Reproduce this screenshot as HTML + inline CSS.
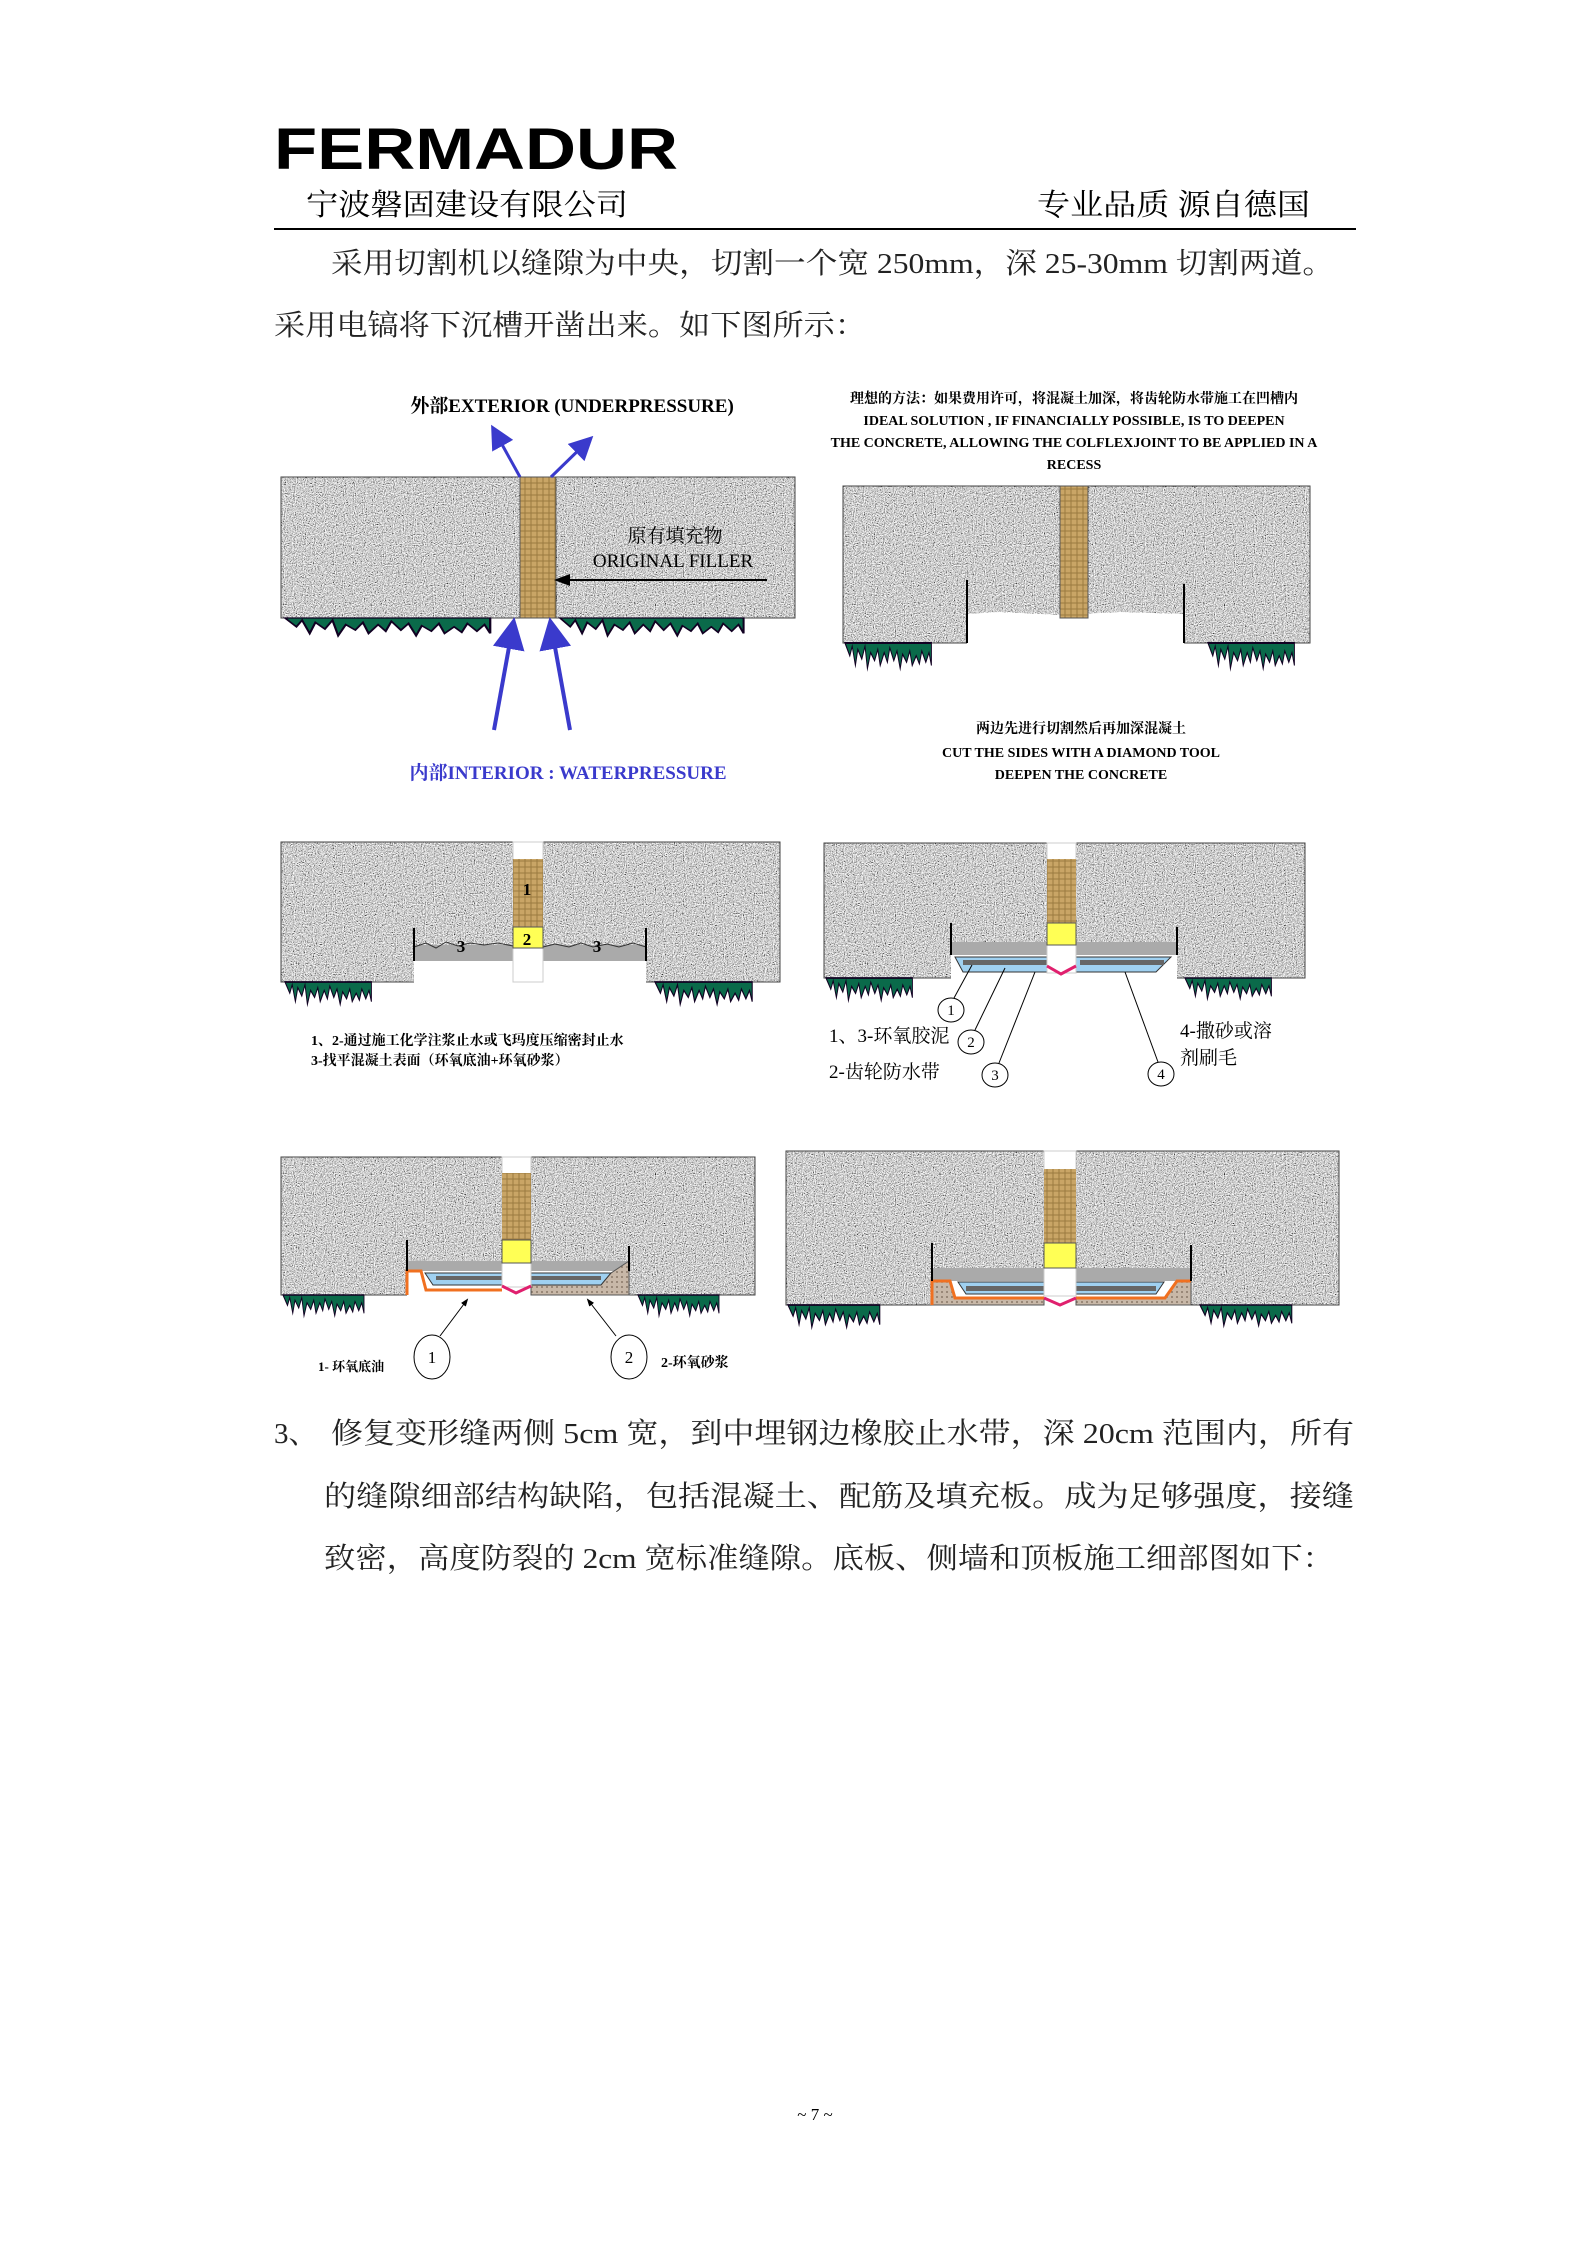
<!DOCTYPE html>
<html><head><meta charset="utf-8"><style>
html,body{margin:0;padding:0;background:#fff}
svg{display:block}
.s{font-family:"Liberation Serif","Noto Serif CJK SC",serif}
.h{font-family:"Liberation Sans","Noto Sans CJK SC",sans-serif}
</style></head><body>
<svg width="1587" height="2245" viewBox="0 0 1587 2245" xmlns="http://www.w3.org/2000/svg">
<defs>
<filter id="n" x="0" y="0" width="100%" height="100%">
<feTurbulence type="fractalNoise" baseFrequency="0.9" numOctaves="2" seed="3" result="t"/>
<feColorMatrix in="t" type="matrix" values="1.4 1.4 0 0 -0.78  1.4 1.4 0 0 -0.78  1.4 1.4 0 0 -0.78  0 0 0 0 1" result="g"/>
<feComposite in="g" in2="SourceGraphic" operator="in"/>
</filter>
<pattern id="fill" width="6" height="6" patternUnits="userSpaceOnUse"><rect width="6" height="6" fill="#c9a566"/><path d="M0 3h6M3 0v6" stroke="#9b7a40" stroke-width="1"/></pattern>
<pattern id="sand" width="5" height="5" patternUnits="userSpaceOnUse"><rect width="5" height="5" fill="#c8b8a8"/><circle cx="2" cy="2" r="0.9" fill="#776655"/></pattern>
<marker id="ab" markerWidth="8" markerHeight="8" refX="6" refY="4" orient="auto"><path d="M0 0L8 4L0 8z" fill="#3a3acc"/></marker>
<marker id="ak" markerWidth="8" markerHeight="8" refX="6" refY="4" orient="auto"><path d="M0 1L8 4L0 7z" fill="#000"/></marker>
<g id="grass"><path d="M0 0 l6 8 l3 -6 l4 12 l3 -10 l5 6 l4 -8 l3 14 l4 -10 l5 5 l4 -7 l3 10 l5 -8 l4 6 l3 -9 l5 8 l4 -6 l4 11 l3 -9 l5 5 l4 -7 l3 9 l5 -6 l4 5 l3 -8 l5 7 l4 -6 l3 8 V0 Z" fill="#0a6a4a" stroke="#102" stroke-width="1.2"/></g>
</defs>

<!-- Header -->
<text x="274" y="169" class="h" font-size="58" font-weight="bold" textLength="404" lengthAdjust="spacingAndGlyphs">FERMADUR</text>
<text x="306" y="215" class="s" font-size="30" textLength="322" lengthAdjust="spacingAndGlyphs">宁波磐固建设有限公司</text>
<text x="1037" y="215" class="s" font-size="30" textLength="273" lengthAdjust="spacingAndGlyphs">专业品质 源自德国</text>
<line x1="274" y1="229" x2="1356" y2="229" stroke="#000" stroke-width="2"/>
<text x="331" y="273" class="s" font-size="29" fill="#222" textLength="1003" lengthAdjust="spacingAndGlyphs">采用切割机以缝隙为中央，切割一个宽 250mm，深 25-30mm 切割两道。</text>
<text x="274" y="335" class="s" font-size="29" fill="#222" textLength="592" lengthAdjust="spacingAndGlyphs">采用电镐将下沉槽开凿出来。如下图所示：</text>

<!-- Diagram 1 -->
<text x="572" y="412" class="s" font-size="19" font-weight="bold" text-anchor="middle">外部EXTERIOR (UNDERPRESSURE)</text>
<rect x="281" y="477" width="514" height="141" fill="#aaa" filter="url(#n)"/>
<rect x="281" y="477" width="514" height="141" fill="none" stroke="#444"/>
<rect x="520" y="477" width="36" height="141" fill="url(#fill)" stroke="#555"/>
<use href="#grass" transform="translate(285,618) scale(1.9,1.1)"/>
<use href="#grass" transform="translate(560,618) scale(1.7,1.1)"/>
<line x1="520" y1="477" x2="494" y2="430" stroke="#3a3acc" stroke-width="3" marker-end="url(#ab)"/>
<line x1="551" y1="477" x2="589" y2="440" stroke="#3a3acc" stroke-width="3" marker-end="url(#ab)"/>
<line x1="494" y1="730" x2="513" y2="625" stroke="#3a3acc" stroke-width="4" marker-end="url(#ab)"/>
<line x1="570" y1="730" x2="551" y2="625" stroke="#3a3acc" stroke-width="4" marker-end="url(#ab)"/>
<text x="675" y="542" class="s" font-size="19" text-anchor="middle">原有填充物</text>
<text x="673" y="567" class="s" font-size="19" text-anchor="middle">ORIGINAL FILLER</text>
<line x1="767" y1="580" x2="558" y2="580" stroke="#000" stroke-width="2" marker-end="url(#ak)"/>
<text x="568" y="779" class="s" font-size="19" font-weight="bold" fill="#3a3acc" text-anchor="middle">内部INTERIOR : WATERPRESSURE</text>

<!-- Diagram 2 -->
<g class="s" font-size="14" font-weight="bold" text-anchor="middle">
<text x="1074" y="403">理想的方法：如果费用许可，将混凝土加深，将齿轮防水带施工在凹槽内</text>
<text x="1074" y="425">IDEAL SOLUTION , IF FINANCIALLY POSSIBLE, IS TO DEEPEN</text>
<text x="1074" y="447">THE CONCRETE, ALLOWING THE COLFLEXJOINT TO BE APPLIED IN A</text>
<text x="1074" y="469">RECESS</text>
<text x="1081" y="733">两边先进行切割然后再加深混凝土</text>
<text x="1081" y="757">CUT THE SIDES WITH A DIAMOND TOOL</text>
<text x="1081" y="779">DEEPEN THE CONCRETE</text>
</g>
<path d="M843 486H1310V643H1184V614L1120 612L1060 615L1000 612L967 614V643H843Z" fill="#aaa" filter="url(#n)"/>
<path d="M967 643H843V486H1310V643H1184" fill="none" stroke="#444"/>
<rect x="1060" y="486" width="28" height="132" fill="url(#fill)" stroke="#555"/>
<line x1="967" y1="580" x2="967" y2="643" stroke="#000" stroke-width="2"/>
<line x1="1184" y1="584" x2="1184" y2="643" stroke="#000" stroke-width="2"/>
<use href="#grass" transform="translate(845,643) scale(0.8,1.6)"/>
<use href="#grass" transform="translate(1208,643) scale(0.8,1.6)"/>

<!-- Diagram 3 -->
<path d="M281 842H780V982H646V961H543V982H513V961H414V982H281Z" fill="#aaa" filter="url(#n)"/>
<path d="M414 982H281V842H780V982H646" fill="none" stroke="#444"/>
<rect x="414" y="945" width="99" height="16" fill="#aaa"/><rect x="543" y="945" width="103" height="16" fill="#aaa"/>
<path d="M414 947l12 -4l10 5l10 -6l12 4l12 -3l14 2l14 -2l15 3M543 947l12 -3l14 3l12 -4l12 4l14 -3l12 3l14 -4l13 4" fill="none" stroke="#333"/>
<rect x="513" y="842" width="30" height="140" fill="#fff" stroke="#ccc"/>
<rect x="513" y="859" width="30" height="68" fill="url(#fill)"/>
<rect x="513" y="927" width="30" height="21" fill="#ffff55" stroke="#555"/>
<line x1="414" y1="928" x2="414" y2="961" stroke="#000" stroke-width="2"/><line x1="646" y1="928" x2="646" y2="961" stroke="#000" stroke-width="2"/>
<text x="527" y="895" class="s" font-size="17" font-weight="bold" text-anchor="middle">1</text>
<text x="527" y="945" class="s" font-size="17" font-weight="bold" text-anchor="middle">2</text>
<text x="461" y="952" class="s" font-size="17" font-weight="bold" text-anchor="middle">3</text>
<text x="597" y="952" class="s" font-size="17" font-weight="bold" text-anchor="middle">3</text>
<use href="#grass" transform="translate(285,982) scale(0.8,1.4)"/>
<use href="#grass" transform="translate(655,982) scale(0.9,1.4)"/>
<text x="311" y="1045" class="s" font-size="14" font-weight="bold">1、2-通过施工化学注浆止水或飞玛度压缩密封止水</text>
<text x="311" y="1065" class="s" font-size="14" font-weight="bold">3-找平混凝土表面（环氧底油+环氧砂浆）</text>

<!-- Diagram 4 -->
<path d="M824 843H1305V978H1177V955H951V978H824Z" fill="#aaa" filter="url(#n)"/>
<path d="M951 978H824V843H1305V978H1177" fill="none" stroke="#444"/>
<rect x="951" y="942" width="226" height="13" fill="#aaa"/>
<path d="M955 957l8 15h88v-15zM1076 957v15h80l15 -15z" fill="#9fd0f0" stroke="#333"/>
<rect x="963" y="960" width="84" height="5" fill="#666"/><rect x="1080" y="960" width="84" height="5" fill="#666"/>
<rect x="1047" y="843" width="29" height="130" fill="#fff" stroke="#ccc"/>
<rect x="1047" y="859" width="29" height="64" fill="url(#fill)"/>
<rect x="1047" y="923" width="29" height="22" fill="#ffff55" stroke="#555"/>
<path d="M1047 966l14 8l15 -8" fill="none" stroke="#e0206e" stroke-width="3"/>
<line x1="951" y1="923" x2="951" y2="955" stroke="#000" stroke-width="2"/><line x1="1177" y1="927" x2="1177" y2="955" stroke="#000" stroke-width="2"/>
<use href="#grass" transform="translate(826,978) scale(0.8,1.4)"/>
<use href="#grass" transform="translate(1185,978) scale(0.8,1.3)"/>
<g fill="#fff" stroke="#000"><ellipse cx="951" cy="1010" rx="13" ry="12"/><ellipse cx="971" cy="1042" rx="13" ry="12"/><ellipse cx="995" cy="1075" rx="13" ry="12"/><ellipse cx="1161" cy="1074" rx="13" ry="12"/></g>
<g stroke="#000" fill="none"><line x1="954" y1="998" x2="972" y2="965"/><line x1="975" y1="1030" x2="1005" y2="968"/><line x1="999" y1="1063" x2="1035" y2="972"/><line x1="1158" y1="1062" x2="1125" y2="972"/></g>
<g class="s" font-size="15" text-anchor="middle"><text x="951" y="1015">1</text><text x="971" y="1047">2</text><text x="995" y="1080">3</text><text x="1161" y="1079">4</text></g>
<g class="s" font-size="19"><text x="829" y="1042">1、3-环氧胶泥</text><text x="829" y="1078">2-齿轮防水带</text><text x="1180" y="1037">4-撒砂或溶</text><text x="1180" y="1064">剂刷毛</text></g>

<!-- Diagram 5 -->
<path d="M281 1157H755V1295H629V1271H407V1295H281Z" fill="#aaa" filter="url(#n)"/>
<path d="M407 1295H281V1157H755V1295H629" fill="none" stroke="#444"/>
<rect x="407" y="1261" width="222" height="10" fill="#aaa"/>
<path d="M531 1273h80l18 -12v34h-98z" fill="url(#sand)" stroke="#555"/>
<path d="M407 1295v-24h14l5 19h76" fill="none" stroke="#f07020" stroke-width="3"/>
<path d="M425 1273l8 12h69v-12zM531 1273v12h70l10 -12z" fill="#9fd0f0" stroke="#333"/>
<rect x="436" y="1276" width="66" height="4" fill="#666"/><rect x="531" y="1276" width="70" height="4" fill="#666"/>
<rect x="502" y="1157" width="29" height="130" fill="#fff" stroke="#ccc"/>
<rect x="502" y="1173" width="29" height="67" fill="url(#fill)"/>
<rect x="502" y="1240" width="29" height="23" fill="#ffff55" stroke="#555"/>
<path d="M502 1286l14 7l15 -7" fill="none" stroke="#e0206e" stroke-width="3"/>
<line x1="407" y1="1240" x2="407" y2="1271" stroke="#000" stroke-width="2"/><line x1="629" y1="1246" x2="629" y2="1271" stroke="#000" stroke-width="2"/>
<use href="#grass" transform="translate(283,1295) scale(0.75,1.3)"/>
<use href="#grass" transform="translate(638,1295) scale(0.75,1.3)"/>
<g fill="#fff" stroke="#000"><ellipse cx="432" cy="1357" rx="18" ry="22"/><ellipse cx="629" cy="1357" rx="18" ry="22"/></g>
<line x1="440" y1="1336" x2="467" y2="1300" stroke="#000" marker-end="url(#ak)"/>
<line x1="616" y1="1336" x2="588" y2="1300" stroke="#000" marker-end="url(#ak)"/>
<g class="s" font-size="17" text-anchor="middle"><text x="432" y="1363">1</text><text x="629" y="1363">2</text></g>
<text x="318" y="1371" class="s" font-size="13" font-weight="bold">1- 环氧底油</text>
<text x="661" y="1367" class="s" font-size="14" font-weight="bold">2-环氧砂浆</text>

<!-- Diagram 6 -->
<path d="M786 1151H1339V1305H1191V1281H932V1305H786Z" fill="#aaa" filter="url(#n)"/>
<path d="M932 1305H786V1151H1339V1305H1191" fill="none" stroke="#444"/>
<rect x="932" y="1268" width="259" height="13" fill="#aaa"/>
<path d="M932 1281h18l5 17h89v7h-112z" fill="url(#sand)" stroke="#555"/>
<path d="M1076 1298h89l12 -17h14v24h-115z" fill="url(#sand)" stroke="#555"/>
<path d="M932 1305v-24h18l5 17h89M1076 1298h89l12 -17h14" fill="none" stroke="#f07020" stroke-width="3"/>
<path d="M958 1282l8 12h78v-12zM1076 1282v12h80l8 -12z" fill="#9fd0f0" stroke="#333"/>
<rect x="966" y="1286" width="78" height="5" fill="#666"/><rect x="1076" y="1286" width="80" height="5" fill="#666"/>
<rect x="1044" y="1151" width="32" height="145" fill="#fff" stroke="#ccc"/>
<rect x="1044" y="1169" width="32" height="74" fill="url(#fill)"/>
<rect x="1044" y="1243" width="32" height="25" fill="#ffff55" stroke="#555"/>
<path d="M1044 1298l16 7l16 -7" fill="none" stroke="#e0206e" stroke-width="3"/>
<line x1="932" y1="1243" x2="932" y2="1281" stroke="#000" stroke-width="2"/><line x1="1191" y1="1245" x2="1191" y2="1281" stroke="#000" stroke-width="2"/>
<use href="#grass" transform="translate(788,1305) scale(0.85,1.4)"/>
<use href="#grass" transform="translate(1200,1305) scale(0.85,1.3)"/>

<!-- Paragraph 3 -->
<g class="s" font-size="29" fill="#222">
<text x="274" y="1443">3、</text>
<text x="331" y="1443" textLength="1023" lengthAdjust="spacingAndGlyphs">修复变形缝两侧 5cm 宽，到中埋钢边橡胶止水带，深 20cm 范围内，所有</text>
<text x="324" y="1506" textLength="1030" lengthAdjust="spacingAndGlyphs">的缝隙细部结构缺陷，包括混凝土、配筋及填充板。成为足够强度，接缝</text>
<text x="324" y="1568" textLength="1010" lengthAdjust="spacingAndGlyphs">致密，高度防裂的 2cm 宽标准缝隙。底板、侧墙和顶板施工细部图如下：</text>
</g>
<text x="815" y="2120" class="s" font-size="17" text-anchor="middle">~ 7 ~</text>
</svg>
</body></html>
